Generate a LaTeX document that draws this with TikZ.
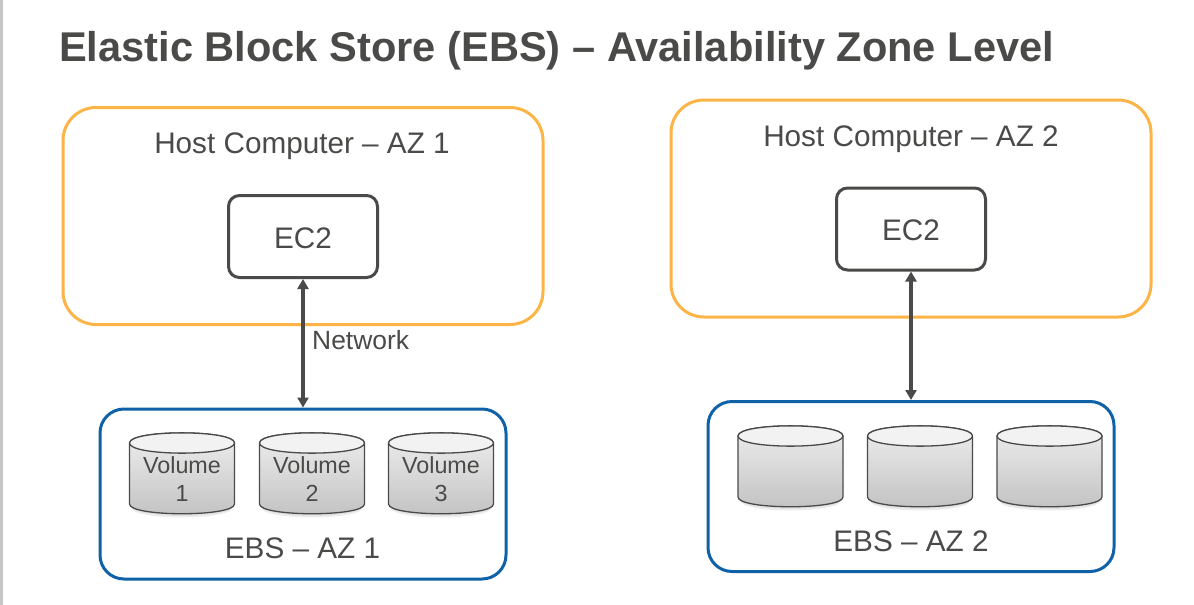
\documentclass[tikz,border=0pt]{standalone}
\usepackage{fontspec}
\setmainfont{Liberation Sans}
\usetikzlibrary{arrows.meta,calc}
\definecolor{ink}{HTML}{4A4A48}
\definecolor{hostc}{HTML}{FDB447}
\definecolor{ebsc}{HTML}{0F62A8}
\tikzset{
 hostbox/.style={draw=hostc,line width=3pt,rounded corners=33pt,fill=white},
 ebsbox/.style={draw=ebsc,line width=3pt,rounded corners=24pt,fill=white},
 ecbox/.style={draw=ink,line width=3pt,rounded corners=11pt,fill=white},
 label/.style={text=ink,font=\fontsize{29.7pt}{34pt}\selectfont,inner sep=0pt},
 vol/.style={text=ink,font=\fontsize{23.3pt}{28pt}\selectfont,align=center,inner sep=0pt},
 link/.style={draw=ink,line width=3.2pt,{Triangle[length=10pt,width=11pt]}-{Triangle[length=10pt,width=11pt]}},
 drumline/.style={draw=ink,line width=1.3pt},
}
% #1 centre x, #2 top ellipse centre y, #3 name, #4 text
\newcommand{\drum}[4]{%
  \fill[black!7] (#1-51,#2+10) -- (#1-51,#2+64) .. controls (#1-51,#2+78) and (#1+51,#2+78) .. (#1+51,#2+64) -- (#1+51,#2+10) -- cycle;
  \fill[black!12] (#1-51,#2+10) -- (#1-51,#2+63) .. controls (#1-51,#2+76) and (#1+51,#2+76) .. (#1+51,#2+63) -- (#1+51,#2+10) -- cycle;
  \path[drumline,top color=black!6,bottom color=black!24]
    (#1-52.5,#2) -- (#1-52.5,#2+61)
    .. controls (#1-52.5,#2+74) and (#1+52.5,#2+74) .. (#1+52.5,#2+61)
    -- (#1+52.5,#2)
    .. controls (#1+52.5,#2-13.5) and (#1-52.5,#2-13.5) .. (#1-52.5,#2) -- cycle;
  \path[drumline,fill=black!5] (#1-52.5,#2)
    .. controls (#1-52.5,#2-13.5) and (#1+52.5,#2-13.5) .. (#1+52.5,#2)
    .. controls (#1+52.5,#2+13.5) and (#1-52.5,#2+13.5) .. (#1-52.5,#2) -- cycle;
  \node[vol] (#3) at (#1,#2+36) {#4};
}
\begin{document}
\begin{tikzpicture}[x=1pt,y=-1pt]
\useasboundingbox (0,0) rectangle (1194,605);
\fill[white] (0,0) rectangle (1194,605);
\fill[black!22] (0,0) rectangle (2.5,605);
\node[anchor=base west,text=ink,inner sep=0pt,font=\bfseries\fontsize{41.6pt}{46pt}\selectfont] (title) at (59,61) {Elastic Block Store (EBS) – Availability Zone Level};
% left
\node[hostbox,minimum width=480pt,minimum height=217pt] (hosta) at (303,216) {};
\node[label] (hostatext) at (302,146) {Host Computer – AZ 1};
\node[ecbox,minimum width=149pt,minimum height=82pt] (eca) at (303,236.5) {};
\node[label] (ecatext) at (303,238) {EC2};
\node[ebsbox,minimum width=406pt,minimum height=170pt] (ebsa) at (303,494) {};
\node[label] (ebsatext) at (302.5,548) {EBS – AZ 1};
\drum{182}{443}{va}{Volume\\1}
\drum{312}{443}{vb}{Volume\\2}
\drum{441}{443}{vc}{Volume\\3}
\draw[link] (eca.south) -- (ebsa.north);
\node[anchor=base west,text=ink,inner sep=0pt,font=\fontsize{26.4pt}{30pt}\selectfont] (net) at (312,349) {Network};
% right
\node[hostbox,minimum width=480pt,minimum height=217pt] (hostb) at (911,208.5) {};
\node[label] (hostbtext) at (911,139) {Host Computer – AZ 2};
\node[ecbox,minimum width=149pt,minimum height=82pt] (ecb) at (911,229) {};
\node[label] (ecbtext) at (911,230) {EC2};
\node[ebsbox,minimum width=406pt,minimum height=170pt] (ebsb) at (911,486.5) {};
\node[label] (ebsbtext) at (911,541) {EBS – AZ 2};
\drum{790.5}{436}{vd}{}
\drum{920}{436}{ve}{}
\drum{1049.5}{436}{vf}{}
\draw[link] (ecb.south) -- (ebsb.north);
\end{tikzpicture}
\end{document}
